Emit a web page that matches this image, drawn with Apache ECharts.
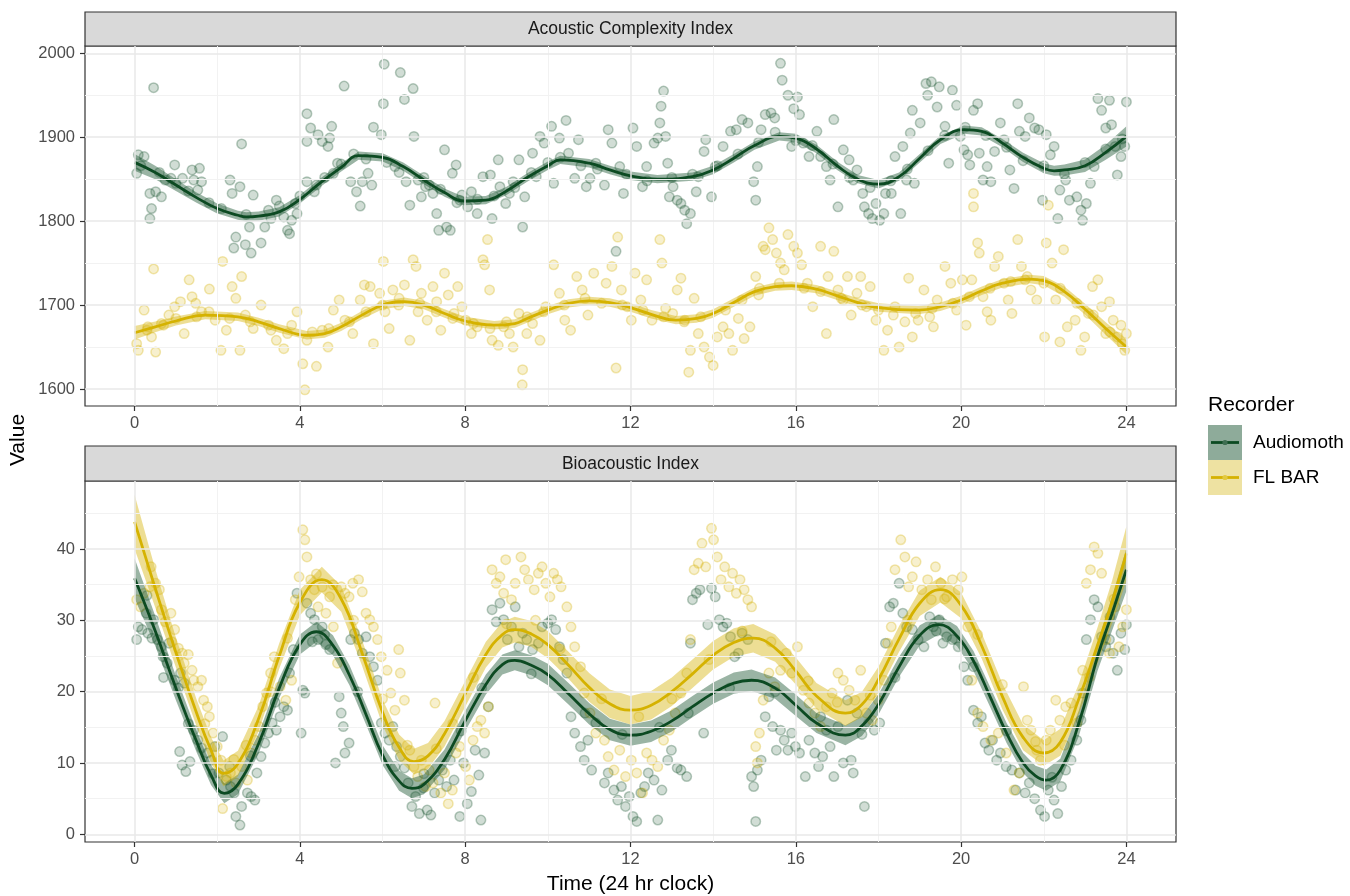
<!DOCTYPE html>
<html><head><meta charset="utf-8">
<script src="https://cdn.jsdelivr.net/npm/echarts@6/dist/echarts.min.js"></script>
<style>html,body{margin:0;padding:0;background:#fff}#c{width:1350px;height:896px}</style>
</head><body><div id="c"></div>
<script>
// ---------- data ----------
const panelTitles = ['Acoustic Complexity Index', 'Bioacoustic Index'];
const recorders = ['Audiomoth', 'FL BAR'];
const xTicks = [0, 4, 8, 12, 16, 20, 24];
const xMinor = [2, 6, 10, 14, 18, 22];
const aciTicks = [1600, 1700, 1800, 1900, 2000];
const aciMinor = [1650, 1750, 1850, 1950];
const biTicks = [0, 10, 20, 30, 40];
const biMinor = [5, 15, 25, 35, 45];

// smooth fits: [hour, fitted value, CI half-width]
const aciAudioCurve = [[0,1870,10],[0.5,1858,8],[1,1843,7],[1.5,1828,6],[2,1815,6],[2.5,1807,5.5],[2.7,1805,5.5],[3,1806,5.5],
  [3.5,1811,5.5],[4,1826,5],[4.5,1846,5],[5,1864,5],[5.42,1878,5],[6,1876,5],[6.5,1865,5],[7,1849,5],[7.5,1834,5],[7.96,1824,5],
  [8.5,1825,5],[9,1836,5],[9.5,1852,5],[10,1866,5],[10.3,1873,5],[11,1869,5],[11.5,1861,5],[12,1854,5],[12.65,1850,5],[13.5,1853,5],
  [14,1861,5],[14.5,1875,5],[15,1890,5],[15.6,1901,5],[16,1899,5],[16.5,1886,5],[17,1866,5],[17.5,1850,5],[18,1844,5],[18.5,1853,5],
  [19,1875,5],[19.5,1897,5],[20.07,1909,5],[20.5,1907,5],[21,1893,5],[21.5,1876,5.5],[22,1863,6],[22.25,1860,6],[22.5,1861,6.5],
  [23,1866,7.5],[23.5,1882,9],[24,1901,12]];
const aciBarCurve = [[0,1667,8],[0.5,1674,6.5],[1,1681,5.5],[1.71,1688,5],[2.5,1686,5],[3,1680,5],[3.5,1672,5],[4.17,1664,5],
  [4.6,1666,5],[5,1674,5],[5.5,1688,5],[6,1700,5],[6.53,1704,5],[7,1700,5],[7.5,1690,5],[8,1681,5],[8.7,1676,5],[9.2,1678,5],
  [9.5,1684,5],[10,1694,5],[10.5,1702,5],[11,1705,5],[11.5,1703,5],[12,1697,5],[12.5,1689,5],[13.1,1682,5],[13.6,1684,5],
  [14,1690,5],[14.5,1703,5],[15,1716,5],[15.5,1722,5],[15.9,1723,5],[16.5,1719,5],[17,1711,5],[17.5,1703,5],[18,1697,5],
  [18.96,1694,5],[19.5,1698,5],[20,1706,5],[20.5,1717,5],[21,1726,5],[21.65,1731,5],[22,1729,5.5],[22.5,1716,6],[23,1695,6.5],
  [23.5,1672,7.5],[24,1650,9]];
const biAudioCurve = [[0,35.9,2.8],[0.5,28.5,2.1],[1,20.5,1.7],[1.5,13.0,1.5],[1.85,8.3,1.4],[2.17,5.75,1.4],[2.5,7.0,1.4],
  [3,12.7,1.4],[3.5,20.5,1.4],[4,26.6,1.4],[4.4,28.4,1.4],[4.8,26.5,1.4],[5.2,22.3,1.4],[5.6,16.8,1.4],[6,11.1,1.4],[6.4,7.5,1.4],
  [6.71,6.45,1.4],[7.0,7.0,1.4],[7.5,10.5,1.4],[8,15.9,1.4],[8.5,21.0,1.4],[8.9,23.8,1.4],[9.2,24.4,1.4],[9.6,23.7,1.4],[10,22.4,1.5],
  [10.5,19.7,1.5],[11,16.9,1.5],[11.5,14.7,1.5],[12,13.9,1.5],[12.5,14.45,1.5],[13,15.9,1.5],[13.5,17.9,1.5],[14,19.8,1.5],
  [14.5,21.2,1.5],[14.93,21.6,1.5],[15.5,20.5,1.5],[16,18.1,1.5],[16.5,15.6,1.4],[17.2,13.9,1.4],[17.6,15.2,1.4],[18,18.2,1.4],
  [18.5,23.5,1.4],[19,27.9,1.4],[19.46,29.4,1.4],[19.9,27.8,1.4],[20.3,24.3,1.4],[20.7,19.3,1.4],[21.1,14.2,1.4],[21.5,10.0,1.4],
  [21.8,8.2,1.4],[22.06,7.6,1.5],[22.4,9.0,1.6],[22.85,15.6,1.8],[23.3,24.9,2.0],[23.65,30.9,2.4],[24,37.1,3.0]];
const biBarCurve = [[0,43.8,3.8],[0.5,34.5,2.7],[1,25.5,2.1],[1.5,17.0,1.9],[1.85,11.8,1.8],[2.15,8.55,1.8],[2.5,9.9,1.8],
  [3,16.2,1.8],[3.5,25.0,1.8],[4,32.5,1.8],[4.53,35.7,1.8],[5,33.0,1.8],[5.5,25.5,1.8],[6,17.1,1.8],[6.4,12.2,1.8],[6.76,10.2,1.8],
  [7.1,11.0,1.8],[7.5,14.1,1.8],[8,19.7,1.8],[8.5,25.2,1.8],[8.9,28.0,1.8],[9.2,28.7,1.8],[9.6,28.1,1.8],[10,26.6,1.9],
  [10.5,23.7,1.9],[11,20.6,2.0],[11.5,18.3,2.0],[12,17.4,2.0],[12.5,18.1,2.0],[13,20.0,2.0],[13.5,22.5,2.0],[14,25.1,2.0],
  [14.5,26.9,2.0],[14.97,27.5,2.0],[15.5,26.1,1.9],[16,22.9,1.9],[16.5,19.4,1.8],[17.2,17.0,1.8],[17.6,18.2,1.8],[18,21.7,1.8],
  [18.5,27.4,1.8],[19,32.4,1.8],[19.5,34.3,1.8],[20,32.1,1.8],[20.5,26.4,1.8],[21,19.3,1.8],[21.5,13.6,1.8],[22,11.4,1.8],
  [22.4,12.9,1.9],[22.85,19.0,2.1],[23.3,26.5,2.5],[23.65,32.5,3.0],[24,39.4,3.8]];

const aciAudioPts = [[0.05,1857],[0.09,1879],[0.23,1877],[0.46,1959],[0.37,1833],[0.37,1803],[0.41,1815],[0.51,1835],[0.65,1829],[0.74,1849],[0.97,1867],[0.88,1851],[1.16,1851],[1.39,1861],[1.57,1863],[1.62,1847],[1.53,1837],[1.43,1849],[2.31,1849],[2.36,1833],[2.55,1841],[2.59,1892],[2.45,1781],[2.40,1768],[2.68,1772],[2.82,1762],[2.87,1831],[2.78,1793],[3.06,1774],[3.15,1793],[3.24,1813],[3.43,1825],[3.61,1805],[3.70,1789],[3.80,1801],[3.89,1821],[3.93,1809],[3.75,1785],[4.17,1928],[4.26,1911],[4.17,1895],[4.17,1847],[4.35,1835],[4.40,1843],[4.44,1903],[4.54,1895],[4.68,1889],[4.72,1899],[4.77,1913],[4.81,1857],[4.91,1869],[5.07,1961],[5.23,1847],[5.37,1835],[5.46,1818],[5.51,1847],[5.65,1857],[5.78,1912],[5.74,1843],[5.97,1903],[6.02,1940],[6.04,1987],[6.30,1865],[6.43,1977],[6.53,1945],[6.74,1958],[6.76,1901],[6.57,1847],[6.66,1819],[6.86,1849],[6.94,1829],[7.04,1841],[7.13,1843],[7.22,1833],[7.31,1809],[7.36,1789],[7.50,1885],[7.55,1793],[7.64,1789],[7.69,1857],[7.78,1867],[7.87,1825],[7.92,1831],[8.06,1817],[8.15,1835],[8.29,1809],[8.43,1853],[8.61,1855],[8.65,1803],[8.80,1873],[8.84,1841],[8.98,1821],[9.07,1833],[9.16,1847],[9.30,1873],[9.39,1793],[9.44,1829],[9.63,1881],[9.72,1853],[9.81,1901],[9.91,1893],[10.09,1913],[10.14,1845],[10.28,1899],[10.44,1920],[10.50,1881],[10.65,1851],[10.74,1897],[10.93,1841],[11.02,1851],[11.16,1869],
[11.37,1843],[11.55,1893],[11.46,1909],[11.65,1764],[11.74,1865],[11.83,1833],[12.06,1911],[12.15,1889],[12.29,1841],[12.39,1865],[12.57,1893],[12.66,1899],[12.74,1937],[12.80,1955],[12.71,1917],[12.85,1901],[12.90,1869],[12.94,1829],[13.03,1841],[13.13,1825],[13.22,1821],[13.31,1813],[13.36,1797],[13.45,1809],[13.59,1835],[13.64,1853],[13.78,1883],[13.82,1897],[13.96,1829],[14.05,1865],[14.24,1889],[14.42,1907],[14.56,1909],[14.70,1921],[14.84,1917],[14.98,1847],[15.03,1825],[15.07,1865],[15.16,1909],[15.26,1927],[15.40,1929],[15.49,1923],[15.63,1988],[15.67,1968],[15.81,1950],[15.95,1934],[16.04,1948],[16.09,1927],[15.90,1889],[16.18,1893],[16.32,1877],[16.51,1907],[16.60,1877],[16.74,1865],[16.83,1849],[16.92,1921],[17.02,1817],[17.15,1885],[17.29,1873],[17.39,1849],[17.48,1861],[17.62,1833],[17.66,1817],[17.76,1809],[17.85,1803],[17.94,1821],[18.03,1801],[18.13,1809],[18.17,1833],[18.31,1833],[18.40,1877],[18.54,1809],[18.59,1889],[18.68,1849],[18.82,1932],[18.87,1845],[18.77,1905],[19.01,1917],[19.15,1964],[19.19,1950],[19.28,1966],[19.42,1936],[19.47,1960],[19.61,1913],[19.70,1869],[19.79,1956],[19.89,1938],[19.98,1901],[20.07,1885],[20.16,1879],[20.21,1867],[20.40,1940],[20.30,1932],[20.44,1881],[20.53,1849],[20.63,1865],[20.72,1847],[20.81,1883],[20.95,1917],[21.04,1897],[21.18,1861],[21.28,1839],[21.37,1940],[21.41,1907],[21.55,1901],[21.65,1923],[21.78,1911],[21.88,1909],[21.97,1825],[22.06,1903],[22.16,1879],[22.25,1889],[22.34,1803],[22.39,1837],[22.53,1849],[22.62,1825],[22.80,1829],[22.90,1813],[22.94,1801],[23.03,1821],[23.13,1845],[23.22,1865],[23.31,1946],[23.40,1932],[23.50,1911],[23.59,1944],[23.64,1915],[23.73,1889],[23.78,1855],[23.87,1877],[23.96,1889],[24.0,1942],
[0.15,1866],[0.6,1858],[1.0,1845],[1.3,1836],[1.8,1822],[2.1,1815],[2.7,1808],[3.3,1803],[3.5,1818],[4.0,1830],[4.6,1852],[5.0,1868],[5.3,1880],[5.6,1874],[6.1,1870],[6.4,1858],[7.0,1852],[7.4,1838],[7.8,1822],[8.3,1826],[8.7,1830],[9.2,1840],[9.6,1858],[10.0,1870],[10.3,1876],[10.8,1866],[11.2,1862],[11.9,1856],[12.4,1848],[13.0,1852],[13.5,1856],[14.1,1866],[14.6,1880],[15.1,1894],[15.5,1906],[16.0,1896],[16.4,1890],[16.9,1868],[17.3,1852],[17.8,1840],[18.3,1848],[18.7,1862],[19.2,1884],[19.6,1902],[20.1,1912],[20.6,1902],[21.1,1888],[21.5,1872],[22.0,1866],[22.5,1856],[23.0,1870],[23.5,1886],[23.9,1898]];

const aciBarPts = [[0.05,1654],[0.09,1646],[0.23,1694],[0.32,1674],[0.46,1743],[0.41,1662],[0.51,1644],[0.65,1678],[0.83,1688],[0.97,1698],[1.11,1704],[1.20,1666],[1.32,1730],[1.39,1710],[1.48,1702],[1.62,1692],[1.81,1719],[1.95,1682],[2.09,1646],[2.13,1752],[2.22,1670],[2.36,1722],[2.45,1708],[2.55,1646],[2.59,1734],[2.68,1688],[2.87,1672],[3.06,1700],[3.24,1676],[3.43,1658],[3.61,1648],[3.80,1676],[3.93,1692],[4.07,1630],[4.12,1599],[4.17,1658],[4.40,1627],[4.54,1670],[4.68,1650],[4.81,1694],[4.95,1706],[5.09,1682],[5.28,1666],[5.46,1706],[5.56,1724],[5.70,1722],[5.78,1654],[5.93,1714],[6.02,1752],[6.06,1692],[6.16,1672],[6.25,1718],[6.39,1700],[6.53,1724],[6.66,1658],[6.74,1754],[6.81,1746],[6.86,1692],[6.94,1714],[7.08,1682],[7.22,1722],[7.31,1704],[7.41,1670],[7.50,1738],[7.59,1712],[7.73,1690],[7.82,1722],[7.92,1698],[8.01,1682],[8.15,1666],[8.29,1674],[8.43,1754],[8.47,1748],[8.54,1778],[8.59,1718],[8.65,1658],[8.80,1652],[8.93,1674],[9.07,1666],[9.16,1650],[9.30,1690],[9.39,1623],[9.38,1605],[9.49,1666],[9.63,1678],[9.81,1658],[9.95,1698],[10.14,1748],[10.28,1714],[10.41,1682],[10.55,1670],[10.70,1734],[10.83,1718],[10.97,1688],[11.11,1738],
[11.41,1726],[11.55,1746],[11.69,1781],[11.65,1625],[11.78,1718],[11.92,1698],[12.02,1682],[12.11,1738],[12.25,1706],[12.39,1730],[12.52,1682],[12.71,1778],[12.76,1750],[12.85,1696],[13.02,1690],[13.13,1718],[13.22,1732],[13.31,1682],[13.45,1646],[13.41,1620],[13.54,1708],[13.64,1666],[13.78,1650],[13.91,1638],[14.00,1628],[14.10,1662],[14.24,1674],[14.38,1666],[14.47,1646],[14.61,1684],[14.75,1660],[14.89,1674],[15.03,1734],[15.12,1720],[15.21,1770],[15.26,1766],[15.35,1792],[15.44,1778],[15.53,1762],[15.63,1750],[15.72,1742],[15.81,1784],[15.95,1770],[16.04,1762],[16.14,1748],[16.28,1726],[16.41,1698],[16.60,1770],[16.74,1666],[16.78,1734],[16.92,1764],[17.02,1718],[17.15,1706],[17.25,1734],[17.34,1688],[17.48,1714],[17.57,1734],[17.71,1698],[17.80,1722],[17.94,1682],[18.13,1646],[18.22,1670],[18.36,1688],[18.50,1650],[18.64,1680],[18.73,1732],[18.82,1662],[18.96,1682],[19.10,1718],[19.24,1686],[19.33,1674],[19.42,1706],[19.61,1746],[19.75,1726],[19.89,1694],[20.03,1730],[20.12,1676],[20.26,1730],[20.30,1833],[20.30,1817],[20.40,1774],[20.44,1762],[20.53,1710],[20.63,1692],[20.72,1682],[20.81,1746],[20.90,1758],[21.04,1726],[21.14,1706],[21.23,1690],[21.37,1778],[21.46,1746],[21.55,1730],[21.69,1718],[21.83,1706],[22.02,1662],[22.06,1774],[22.11,1819],[22.20,1750],[22.29,1706],[22.39,1656],[22.48,1766],[22.57,1674],[22.76,1682],[22.90,1646],[22.99,1662],[23.08,1690],[23.18,1722],[23.31,1730],[23.40,1698],[23.50,1666],[23.59,1704],[23.68,1682],[23.78,1662],[23.87,1676],[23.96,1646],[24.0,1666],
[0.3,1670],[0.7,1676],[1.0,1684],[1.5,1686],[1.8,1692],[2.3,1684],[2.8,1680],[3.3,1670],[3.7,1666],[4.3,1668],[4.7,1672],[5.2,1680],[5.6,1692],[6.0,1700],[6.4,1708],[6.9,1702],[7.3,1692],[7.7,1684],[8.2,1678],[8.6,1672],[9.0,1680],[9.5,1686],[9.9,1692],[10.4,1700],[10.9,1708],[11.3,1702],[11.8,1700],[12.3,1694],[12.8,1686],[13.3,1680],[13.7,1686],[14.3,1694],[14.7,1706],[15.1,1712],[15.6,1726],[16.2,1720],[16.6,1716],[17.1,1708],[17.6,1700],[18.0,1694],[18.4,1698],[18.9,1690],[19.3,1696],[19.8,1702],[20.2,1710],[20.7,1720],[21.2,1728],[21.6,1734],[22.0,1726],[22.4,1720],[22.8,1702],[23.2,1688],[23.6,1668],[23.9,1654]];

const biAudioPts = [[0.05,27.3],[0.09,29.1],[0.18,28.7],[0.32,28.2],[0.42,27.5],[0.28,31.0],[0.46,30.1],[0.55,27.3],[0.65,26.3],[0.69,24.9],[0.79,24.0],[0.83,26.8],[0.97,21.6],[1.06,20.5],[1.11,22.6],[1.20,21.2],[1.09,11.6],[1.15,9.7],[1.24,8.8],[1.34,10.2],[1.43,14.6],[1.53,13.2],[1.62,12.1],[1.76,11.4],[1.85,10.4],[1.94,12.3],[2.04,8.6],[2.13,13.7],[2.22,7.6],[2.32,6.7],[2.41,5.8],[2.45,2.5],[2.55,1.3],[2.59,3.9],[2.73,5.8],[2.82,5.3],[2.91,4.8],[2.96,8.6],[3.06,10.9],[3.15,12.8],[3.24,14.2],[3.33,15.6],[3.43,14.6],[3.52,16.5],[3.61,17.9],[3.70,17.4],[3.75,22.6],[3.84,25.9],[3.93,33.8],[4.03,14.2],[4.07,20.2],[4.12,19.8],[4.17,32.4],[4.26,31.0],[4.35,30.1],[4.44,27.3],[4.54,29.1],[4.63,26.6],[4.72,25.9],[4.86,10.0],[4.95,19.3],[5.00,17.0],[5.05,15.1],[5.09,11.4],[5.19,12.8],[5.23,27.3],[5.32,28.2],[5.42,27.3],[5.51,25.4],[5.60,27.7],[5.69,24.9],[5.78,23.5],[5.88,21.6],[5.97,15.6],[6.06,14.2],[6.16,13.2],[6.25,15.1],[6.34,12.3],[6.43,10.9],[6.53,9.3],[6.62,7.2],[6.71,3.9],[6.80,5.3],[6.89,2.9],[6.99,6.5],[7.08,3.4],[7.17,2.7],[7.26,5.8],[7.36,7.6],[7.45,9.0],[7.55,6.7],[7.64,10.4],[7.73,7.6],[7.87,2.5],[7.96,10.0],[8.05,4.3],[8.15,6.0],[8.24,11.8],[8.33,8.3],[8.38,2.0],[8.47,11.4],[8.56,17.9],[8.65,31.5],[8.75,29.8],[8.84,32.4],[8.93,30.1],[9.02,27.3],[9.12,29.1],[9.21,31.9],[9.30,26.3],[9.39,28.2],[9.49,27.3],[9.63,25.9],[9.77,26.8],[9.86,29.1],[10.00,29.6],[10.09,30.1],[10.19,28.7],[10.28,26.3],[10.37,24.5],[10.46,22.6],[10.56,16.5],[10.65,14.2],[10.79,12.3],[10.88,10.4],[10.97,13.2],[11.06,9.0],[11.16,15.6],
[11.37,7.2],[11.46,8.6],[11.60,6.2],[11.69,4.8],[11.78,6.7],[11.88,3.9],[11.97,5.3],[12.06,2.5],[12.15,1.8],[12.25,5.8],[12.34,6.7],[12.43,8.6],[12.57,7.6],[12.66,2.0],[12.76,6.2],[12.90,10.4],[12.99,11.8],[13.13,9.3],[13.22,9.0],[13.36,8.1],[13.45,26.8],[13.50,32.9],[13.59,33.8],[13.68,34.3],[13.77,14.2],[13.87,29.4],[13.96,34.5],[14.05,33.3],[14.15,30.1],[14.24,29.1],[14.33,29.6],[14.42,27.7],[14.52,24.9],[14.61,25.4],[14.70,28.2],[14.84,27.3],[14.93,8.1],[14.98,6.7],[15.03,1.8],[15.07,9.0],[15.16,10.4],[15.26,16.5],[15.35,19.3],[15.44,15.1],[15.53,11.8],[15.63,14.6],[15.72,13.2],[15.81,11.8],[15.90,14.2],[15.99,12.3],[16.09,11.4],[16.23,8.1],[16.32,13.2],[16.46,11.4],[16.55,9.5],[16.65,10.9],[16.74,14.6],[16.83,12.3],[16.92,8.1],[17.02,15.1],[17.15,10.0],[17.25,18.8],[17.34,10.4],[17.39,8.6],[17.48,17.0],[17.66,3.9],[17.76,15.6],[17.90,14.6],[18.03,15.6],[18.17,26.8],[18.27,31.9],[18.36,32.4],[18.50,35.2],[18.59,31.0],[18.68,29.1],[18.82,28.7],[18.96,27.3],[19.10,26.3],[19.24,30.5],[19.33,29.1],[19.47,30.1],[19.56,26.8],[19.65,27.7],[19.79,27.3],[19.93,26.3],[20.07,23.5],[20.16,21.6],[20.30,17.4],[20.40,15.6],[20.49,16.5],[20.58,12.8],[20.67,11.8],[20.76,13.2],[20.86,10.4],[20.95,11.4],[21.09,9.5],[21.23,9.0],[21.32,6.2],[21.41,8.6],[21.55,5.8],[21.65,7.2],[21.78,5.0],[21.92,3.4],[22.02,2.5],[22.11,6.2],[22.25,4.8],[22.34,2.9],[22.43,6.7],[22.53,9.0],[22.66,10.4],[22.80,13.2],[22.94,19.8],[23.03,27.3],[23.13,30.1],[23.22,32.9],[23.31,31.9],[23.40,27.7],[23.50,26.3],[23.59,27.3],[23.68,25.4],[23.78,23.0],[23.87,28.2],[23.96,25.9],[24.0,29.4],
[0.3,33.5],[0.7,22.0],[1.3,15.5],[1.9,8.5],[2.3,9.5],[2.8,11.0],[3.4,18.5],[4.3,27.0],[4.6,28.0],[5.4,20.0],[6.3,9.5],[7.0,8.5],[7.9,14.5],[8.4,20.5],[9.6,22.5],[10.9,17.0],[11.8,14.0],[12.7,15.0],[13.4,17.0],[14.4,20.5],[15.5,20.0],[16.6,16.5],[17.6,14.0],[18.4,22.0],[19.4,28.5],[20.3,23.5],[21.1,14.5],[22.2,8.0],[22.9,16.0],[23.6,30.5]];

const biBarPts = [[0.05,32.9],[0.14,31.9],[0.23,33.8],[0.37,34.7],[0.51,35.2],[0.60,34.3],[0.65,31.5],[0.74,29.8],[0.88,31.0],[0.97,28.7],[1.06,26.1],[1.15,25.4],[1.30,25.2],[1.39,23.0],[1.43,21.6],[1.53,20.7],[1.62,21.6],[1.67,18.8],[1.76,17.9],[1.81,16.5],[1.90,14.2],[2.00,12.3],[2.09,10.4],[2.13,3.6],[2.22,8.1],[2.32,8.6],[2.45,7.2],[2.59,9.5],[2.73,7.6],[2.82,11.4],[2.91,13.2],[3.01,15.1],[3.10,17.9],[3.19,19.8],[3.29,22.6],[3.38,24.9],[3.52,20.7],[3.66,18.8],[3.80,21.6],[3.89,32.9],[3.98,36.1],[4.07,42.7],[4.12,41.3],[4.17,38.9],[4.26,35.7],[4.35,34.3],[4.44,31.9],[4.54,34.7],[4.63,31.0],[4.72,33.3],[4.81,29.1],[4.91,24.0],[5.00,34.7],[5.09,33.8],[5.19,33.3],[5.28,35.2],[5.42,35.7],[5.51,34.0],[5.60,31.0],[5.69,30.1],[5.78,29.1],[5.88,27.3],[5.97,24.9],[6.11,23.0],[6.20,19.8],[6.30,17.4],[6.39,25.9],[6.43,22.6],[6.53,18.8],[6.66,11.8],[6.76,9.5],[6.85,8.1],[6.94,10.4],[7.04,6.7],[7.13,9.0],[7.22,7.2],[7.27,18.4],[7.41,5.8],[7.50,8.6],[7.59,4.3],[7.69,6.2],[7.78,11.4],[7.87,12.3],[8.01,9.5],[8.10,7.6],[8.19,13.2],[8.29,15.1],[8.38,16.0],[8.47,14.2],[8.56,17.9],[8.65,37.1],[8.75,35.2],[8.84,36.1],[8.93,33.8],[8.98,38.5],[9.12,32.9],[9.21,35.2],[9.35,38.9],[9.44,37.1],[9.53,35.7],[9.67,34.3],[9.77,36.6],[9.86,37.5],[9.95,35.2],[10.05,33.3],[10.14,36.6],[10.23,35.7],[10.32,34.7],[10.46,31.9],[10.56,29.1],[10.65,26.3],[10.79,23.5],[10.88,19.8],[11.02,17.0],[11.16,14.2],
[11.37,13.2],[11.46,10.9],[11.60,9.0],[11.74,11.8],[11.88,8.1],[12.02,10.4],[12.15,8.6],[12.29,5.8],[12.39,11.4],[12.52,10.4],[12.66,9.5],[12.80,13.2],[12.94,14.6],[13.08,17.0],[13.22,19.8],[13.36,22.6],[13.45,27.3],[13.54,37.1],[13.64,38.0],[13.73,40.8],[13.82,37.5],[13.96,42.9],[14.01,41.3],[14.10,38.9],[14.19,35.7],[14.28,37.5],[14.38,34.7],[14.47,36.6],[14.56,33.8],[14.65,35.7],[14.75,34.3],[14.84,32.9],[14.93,31.9],[15.03,12.3],[15.07,10.0],[15.12,14.2],[15.21,18.8],[15.35,22.6],[15.49,20.7],[15.63,23.0],[15.77,25.4],[15.90,22.6],[16.04,26.3],[16.18,20.2],[16.32,18.4],[16.46,17.0],[16.60,15.1],[16.74,17.9],[16.88,19.8],[17.02,22.6],[17.15,21.6],[17.29,20.2],[17.43,18.8],[17.57,23.0],[17.71,17.0],[17.85,16.0],[17.99,18.8],[18.13,21.6],[18.22,26.8],[18.31,29.1],[18.40,37.1],[18.54,41.3],[18.64,38.9],[18.73,34.7],[18.82,36.1],[18.91,38.2],[19.05,34.3],[19.19,35.7],[19.28,32.9],[19.38,37.5],[19.51,35.2],[19.65,33.3],[19.79,35.7],[19.93,34.3],[20.02,36.1],[20.16,29.1],[20.26,21.6],[20.40,17.0],[20.53,15.1],[20.72,13.2],[20.90,14.2],[21.09,11.4],[21.28,6.2],[21.41,8.6],[21.51,20.7],[21.60,16.0],[21.69,14.6],[21.83,11.8],[21.92,10.4],[22.06,13.2],[22.16,14.6],[22.29,18.8],[22.39,16.0],[22.53,17.9],[22.66,18.4],[22.80,15.6],[22.94,23.0],[23.03,35.2],[23.13,37.1],[23.22,40.3],[23.31,39.4],[23.40,36.6],[23.50,27.3],[23.59,25.4],[23.73,31.9],[23.82,26.3],[23.91,29.1],[24.0,31.5],
[0.4,37.5],[0.9,27.0],[1.2,24.0],[1.7,15.5],[2.4,10.5],[2.7,12.5],[3.3,20.0],[3.7,27.5],[4.4,36.5],[4.8,35.0],[5.3,30.0],[6.0,19.0],[6.6,12.5],[7.3,12.0],[7.7,15.5],[8.2,22.0],[9.0,29.5],[9.7,30.0],[10.3,26.0],[11.3,19.0],[12.2,16.5],[13.0,19.0],[13.9,24.5],[14.7,28.5],[15.4,27.0],[16.3,21.5],[17.0,18.5],[17.8,19.5],[18.7,30.0],[19.6,33.0],[20.4,28.0],[21.0,21.0],[21.8,13.0],[22.5,12.5],[23.1,22.0],[23.7,33.0]];

// ---------- styling helpers ----------
const FONT = "'Liberation Sans', Arial, sans-serif";
const darkCol = '#0C4A22';
const yelCol = '#D5B200';
const darkFill = 'rgba(14,77,39,0.24)';
const darkRing = 'rgba(14,77,39,0.36)';
const yelFill = 'rgba(212,176,0,0.24)';
const yelRing = 'rgba(212,176,0,0.38)';
const darkBand = 'rgba(14,77,39,0.42)';
const yelBand = 'rgba(212,176,0,0.42)';

const grids = [
  {left: 85, top: 46, width: 1091, height: 360},
  {left: 85, top: 481, width: 1091, height: 361}
];
const yRanges = [[1579.7, 2008.7], [-1.08, 49.54]];
const yTickSets = [aciTicks, biTicks];
const yMinorSets = [aciMinor, biMinor];

function gridSeries(i) {
  const major = {color: '#E8E8E8', width: 1.5, type: 'solid'};
  const minor = {color: '#F2F2F2', width: 1, type: 'solid'};
  const d = [];
  xMinor.forEach(v => d.push({xAxis: v, lineStyle: minor}));
  yMinorSets[i].forEach(v => d.push({yAxis: v, lineStyle: minor}));
  xTicks.forEach(v => d.push({xAxis: v, lineStyle: major}));
  yTickSets[i].forEach(v => d.push({yAxis: v, lineStyle: major}));
  return {
    type: 'line', xAxisIndex: i, yAxisIndex: i, data: [], z: 1, silent: true,
    markLine: {silent: true, symbol: ['none', 'none'], label: {show: false}, animation: false,
      emphasis: {disabled: true}, data: d}
  };
}
function pointSeries(i, pts, fill, ring) {
  return {type: 'scatter', xAxisIndex: i, yAxisIndex: i, data: pts, symbol: 'circle', symbolSize: 9.5,
    itemStyle: {color: fill, borderColor: ring, borderWidth: 1.5}, silent: true, z: 2, emphasis: {disabled: true}};
}
// confidence ribbon: one polygon built from the curve rows via the axis scales
function bandSeries(i, curve, col) {
  const rows = curve.map(r => [r[0], r[1] - r[2], r[1] + r[2]]);
  return {
    type: 'custom', xAxisIndex: i, yAxisIndex: i, silent: true, z: 3,
    data: rows, encode: {x: 0, y: [1, 2]},
    renderItem: function (params, api) {
      if (params.dataIndex !== 0) return null;
      const up = rows.map(r => api.coord([r[0], r[2]]));
      const lo = rows.map(r => api.coord([r[0], r[1]])).reverse();
      return {type: 'polygon', shape: {points: up.concat(lo)}, style: {fill: col, stroke: null}};
    }
  };
}
function fitSeries(i, curve, col, name) {
  return {type: 'line', name: name, xAxisIndex: i, yAxisIndex: i, symbol: 'none', smooth: 0.45, silent: true,
    data: curve.map(r => [r[0], r[1]]), lineStyle: {color: col, width: 2.8}, z: 4};
}

const series = [
  gridSeries(0), gridSeries(1),
  pointSeries(0, aciAudioPts, darkFill, darkRing), pointSeries(0, aciBarPts, yelFill, yelRing),
  pointSeries(1, biAudioPts, darkFill, darkRing), pointSeries(1, biBarPts, yelFill, yelRing),
  bandSeries(0, aciAudioCurve, darkBand),
  bandSeries(0, aciBarCurve, yelBand),
  bandSeries(1, biAudioCurve, darkBand),
  bandSeries(1, biBarCurve, yelBand),
  fitSeries(0, aciAudioCurve, darkCol, recorders[0]), fitSeries(0, aciBarCurve, yelCol, recorders[1]),
  fitSeries(1, biAudioCurve, darkCol, recorders[0]), fitSeries(1, biBarCurve, yelCol, recorders[1])
];

const tickStyle = {show: true, length: 5, lineStyle: {color: '#333', width: 1.2}};
const labelStyle = {color: '#4D4D4D', fontSize: 16.5, fontFamily: FONT, formatter: v => String(v)};

const option = {
  animation: false,
  backgroundColor: '#fff',
  grid: grids.map(g => Object.assign({show: true, borderColor: '#333', borderWidth: 1.2, backgroundColor: '#fff', containLabel: false}, g)),
  xAxis: [0, 1].map(i => ({
    type: 'value', gridIndex: i, min: -1.2, max: 25.2, position: 'bottom',
    axisLine: {show: false, onZero: false}, splitLine: {show: false},
    axisTick: Object.assign({customValues: xTicks}, tickStyle),
    axisLabel: Object.assign({customValues: xTicks, margin: 9}, labelStyle)
  })),
  yAxis: [0, 1].map(i => ({
    type: 'value', gridIndex: i, min: yRanges[i][0], max: yRanges[i][1], position: 'left',
    axisLine: {show: false, onZero: false}, splitLine: {show: false},
    axisTick: Object.assign({customValues: yTickSets[i]}, tickStyle),
    axisLabel: Object.assign({customValues: yTickSets[i], margin: 10}, labelStyle)
  })),
  series: series,
  graphic: [
    {type: 'rect', shape: {x: 85, y: 12, width: 1091, height: 34}, style: {fill: '#D9D9D9', stroke: '#333', lineWidth: 1.2}},
    {type: 'text', x: 630.5, y: 29.5, style: {text: panelTitles[0], fontSize: 17.5, fontFamily: FONT, fill: '#1A1A1A', align: 'center', verticalAlign: 'middle'}},
    {type: 'rect', shape: {x: 85, y: 446, width: 1091, height: 35}, style: {fill: '#D9D9D9', stroke: '#333', lineWidth: 1.2}},
    {type: 'text', x: 630.5, y: 464, style: {text: panelTitles[1], fontSize: 17.5, fontFamily: FONT, fill: '#1A1A1A', align: 'center', verticalAlign: 'middle'}},
    {type: 'text', x: 18, y: 440, rotation: Math.PI / 2, style: {text: 'Value', fontSize: 21, fontFamily: FONT, fill: '#000', align: 'center', verticalAlign: 'middle'}},
    {type: 'text', x: 630.5, y: 884, style: {text: 'Time (24 hr clock)', fontSize: 21, fontFamily: FONT, fill: '#000', align: 'center', verticalAlign: 'middle'}},
    // legend
    {type: 'text', x: 1208, y: 405, style: {text: 'Recorder', fontSize: 21, fontFamily: FONT, fill: '#000', align: 'left', verticalAlign: 'middle'}},
    {type: 'rect', shape: {x: 1208, y: 425, width: 34, height: 35}, style: {fill: '#8EAB9A'}},
    {type: 'line', shape: {x1: 1211, y1: 442.5, x2: 1239, y2: 442.5}, style: {stroke: darkCol, lineWidth: 2.8}},
    {type: 'circle', shape: {cx: 1225, cy: 442.5, r: 2.6}, style: {fill: '#3E6E52'}},
    {type: 'text', x: 1253, y: 443, style: {text: recorders[0], fontSize: 19, fontFamily: FONT, fill: '#000', align: 'left', verticalAlign: 'middle'}},
    {type: 'rect', shape: {x: 1208, y: 460, width: 34, height: 35}, style: {fill: '#EEE2A2'}},
    {type: 'line', shape: {x1: 1211, y1: 477.5, x2: 1239, y2: 477.5}, style: {stroke: yelCol, lineWidth: 2.8}},
    {type: 'circle', shape: {cx: 1225, cy: 477.5, r: 2.6}, style: {fill: '#E2C940'}},
    {type: 'text', x: 1253, y: 478, style: {text: recorders[1], fontSize: 19, fontFamily: FONT, fill: '#000', align: 'left', verticalAlign: 'middle'}}
  ]
};

const chart = echarts.init(document.getElementById('c'), null, {renderer: 'canvas'});
chart.setOption(option);
</script>
</body></html>
